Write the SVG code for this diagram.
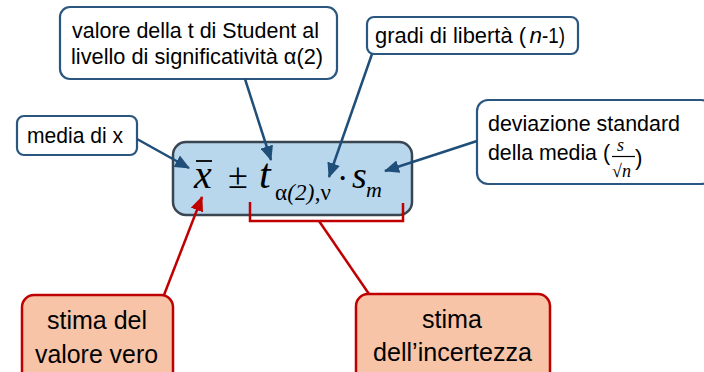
<svg xmlns="http://www.w3.org/2000/svg" width="704" height="372" viewBox="0 0 704 372">
<style>
.lbl{fill:#fff;stroke:#2a5680;stroke-width:2.2}
.est{fill:#f7c4a7;stroke:#c00000;stroke-width:2.5}
.main{fill:#b8d7ec;stroke:#3a4552;stroke-width:2.5}
.t{font-family:"Liberation Sans",Arial,sans-serif;font-size:22.5px;fill:#000}
.te{font-family:"Liberation Sans",Arial,sans-serif;font-size:25.5px;fill:#000}
.m{font-family:"Liberation Serif","Times New Roman",serif;fill:#000}
.bl{stroke:#1f4e79;stroke-width:2.5;fill:none}
.rd{stroke:#c00000;stroke-width:2.5;fill:none}
</style>
<defs>
<marker id="ab" markerUnits="userSpaceOnUse" markerWidth="15" markerHeight="13" refX="14" refY="6.5" orient="auto"><path d="M0,0 L15,6.5 L0,13 z" fill="#1f4e79"/></marker>
<marker id="ar" markerUnits="userSpaceOnUse" markerWidth="15" markerHeight="13" refX="14" refY="6.5" orient="auto"><path d="M0,0 L15,6.5 L0,13 z" fill="#c00000"/></marker>
</defs>
<rect width="704" height="372" fill="#fff"/>
<g id="formula">
<rect class="main" x="173" y="142" width="239" height="73" rx="13"/>
<text class="m" x="194" y="188" font-size="40" font-style="italic">x</text>
<line x1="196" y1="161" x2="212" y2="161" stroke="#000" stroke-width="1.8"/>
<text class="m" x="228" y="188" font-size="36">±</text>
<text class="m" x="259" y="188" font-size="42" font-style="italic">t</text>
<text class="m" x="275" y="200" font-size="23" textLength="56" lengthAdjust="spacing">α<tspan font-style="italic">(2)</tspan>,ν</text>
<text class="m" x="337" y="189" font-size="34">·</text>
<text class="m" x="352" y="188" font-size="38" font-style="italic">s</text>
<text class="m" x="366" y="197" font-size="22" font-style="italic">m</text>
</g>
<g id="media">
<rect class="lbl" x="17" y="116" width="120" height="39" rx="7"/>
<text class="t" x="27" y="143" textLength="96" lengthAdjust="spacingAndGlyphs">media di x</text>
</g>
<g id="valore">
<rect class="lbl" x="60" y="7" width="277" height="72" rx="10"/>
<text class="t" x="72" y="38" textLength="247" lengthAdjust="spacingAndGlyphs">valore della t di Student al</text>
<text class="t" x="71" y="64" textLength="252" lengthAdjust="spacingAndGlyphs">livello di significatività α(2)</text>
</g>
<g id="gradi">
<rect class="lbl" x="367" y="17" width="211" height="37" rx="7"/>
<text class="t" x="375" y="43" textLength="151" lengthAdjust="spacingAndGlyphs">gradi di libertà (</text>
<text class="t" x="529.5" y="43" font-style="italic">n</text>
<text class="t" x="542" y="43" textLength="23" lengthAdjust="spacingAndGlyphs">-1)</text>
</g>
<g id="deviazione">
<rect class="lbl" x="477" y="100" width="235" height="84" rx="11"/>
<text class="t" x="488" y="131" textLength="192" lengthAdjust="spacingAndGlyphs">deviazione standard</text>
<text class="t" x="488" y="160" textLength="122" lengthAdjust="spacingAndGlyphs">della media (</text>
<text class="m" x="617" y="151" font-size="18" font-style="italic">s</text>
<line x1="612" y1="156.5" x2="635" y2="156.5" stroke="#000" stroke-width="1.2"/>
<text class="m" x="612" y="177" font-size="18">√<tspan font-style="italic">n</tspan></text>
<text class="t" x="635" y="165">)</text>
</g>
<g id="stima-valore">
<rect class="est" x="22" y="295" width="151" height="90" rx="12"/>
<text class="te" x="97" y="329" text-anchor="middle" textLength="100" lengthAdjust="spacingAndGlyphs">stima del</text>
<text class="te" x="96.5" y="363" text-anchor="middle" textLength="123" lengthAdjust="spacingAndGlyphs">valore vero</text>
</g>
<g id="stima-incertezza">
<rect class="est" x="356" y="294" width="194" height="90" rx="12"/>
<text class="te" x="452" y="328" text-anchor="middle" textLength="60" lengthAdjust="spacingAndGlyphs">stima</text>
<text class="te" x="452.5" y="361" text-anchor="middle" textLength="159" lengthAdjust="spacingAndGlyphs">dell’incertezza</text>
</g>
<g id="connectors">
<line class="bl" x1="137" y1="139" x2="189" y2="168" marker-end="url(#ab)"/>
<line class="bl" x1="245" y1="79" x2="271" y2="160" marker-end="url(#ab)"/>
<line class="bl" x1="372" y1="54" x2="329" y2="177" marker-end="url(#ab)"/>
<line class="bl" x1="477" y1="141" x2="385" y2="171" marker-end="url(#ab)"/>
<line class="rd" x1="164" y1="295" x2="202" y2="197" marker-end="url(#ar)"/>
<polyline class="rd" points="250,202 250,221 403,221 403,203"/>
<line class="rd" x1="319" y1="221" x2="369" y2="294"/>
</g>
</svg>
